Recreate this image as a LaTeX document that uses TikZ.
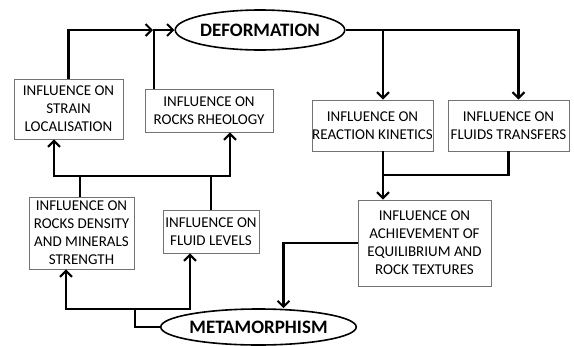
\documentclass[tikz,border=0pt]{standalone}
\usepackage{fontspec}
\setmainfont{Carlito}
\usepackage{tikz}
\usetikzlibrary{arrows.meta, calc, shapes.geometric}
\tikzset{
    infobox/.style={draw=black!55, line width=0.9pt, fill=white, inner sep=0pt, align=center, font=\fontsize{15}{18}\selectfont},
    process/.style={ellipse, draw=black, line width=1.6pt, fill=white, inner sep=0pt, font=\fontsize{19}{22}\selectfont\bfseries},
    link/.style={line width=2.2pt, draw=black},
    flow/.style={link, -{Straight Barb[length=6pt, width=12pt, line width=2pt]}}
}

\begin{document}
\begin{tikzpicture}[x=1pt, y=-1pt]
    \useasboundingbox (0,0) rectangle (574,346);
    % the two processes
    \node[process, minimum width=166pt, minimum height=40pt] (deform) at (260,30) {DEFORMATION};
    \node[process, minimum width=165pt, minimum height=36pt] (metam) at (258.5,327) {METAMORPHISM};
    % influences of metamorphism on deformation
    \node[infobox, minimum width=109pt, minimum height=60pt] (strain) at (68.5,109) {INFLUENCE ON\\STRAIN\\LOCALISATION};
    \node[infobox, minimum width=128pt, minimum height=43pt] (rheology) at (209,110.5) {INFLUENCE ON\\ROCKS RHEOLOGY};
    \node[infobox, minimum width=105pt, minimum height=72pt] (density) at (81.5,233) {INFLUENCE ON\\ROCKS DENSITY\\AND MINERALS\\STRENGTH};
    \node[infobox, minimum width=96pt, minimum height=43pt] (levels) at (211,231.5) {INFLUENCE ON\\FLUID LEVELS};
    % influences of deformation on metamorphism
    \node[infobox, minimum width=121pt, minimum height=51pt] (kinetics) at (372.5,125.5) {INFLUENCE ON\\REACTION KINETICS};
    \node[infobox, minimum width=121pt, minimum height=51pt] (fluids) at (508.5,125.5) {INFLUENCE ON\\FLUIDS TRANSFERS};
    \node[infobox, minimum width=133pt, minimum height=86pt] (equil) at (424.5,243) {INFLUENCE ON\\ACHIEVEMENT OF\\EQUILIBRIUM AND\\ROCK TEXTURES};
    % junctions
    \coordinate (mergeD) at (154,30);
    \coordinate (kinIn) at ([xshift=10.5pt]kinetics.north);
    \coordinate (mergeE) at (kinIn |- 0,175);
    \coordinate (splitM) at (135,309);
    \coordinate (splitI) at (80,176);
    % left loop: metamorphism -> deformation
    \draw[link] (metam.west) -| (splitM);
    \draw[flow] (splitM) -| ([xshift=-15.5pt]density.south);
    \draw[flow] (splitM) -| ([xshift=-21pt]levels.south);
    \draw[link] (density.north -| splitI) -- (splitI);
    \draw[link] (levels.north) -- (levels.north |- splitI);
    \draw[flow] (splitI) -| ([xshift=-14.5pt]strain.south);
    \draw[flow] (splitI) -| ([xshift=21pt]rheology.south);
    \draw[flow] (strain.north) |- ([xshift=-1pt]mergeD);
    \draw[flow] (rheology.north -| mergeD) -- (mergeD) -- (deform.west);
    % right loop: deformation -> metamorphism
    \draw[flow] (deform.east) -| ([xshift=10pt]fluids.north);
    \draw[flow] (deform.east -| kinIn) -- (kinIn);
    \draw[link] (fluids.south) |- (mergeE);
    \draw[flow] (kinIn |- kinetics.south) -- (kinIn |- equil.north);
    \draw[flow] (equil.west) -| ([xshift=25pt]metam.north);
\end{tikzpicture}
\end{document}
